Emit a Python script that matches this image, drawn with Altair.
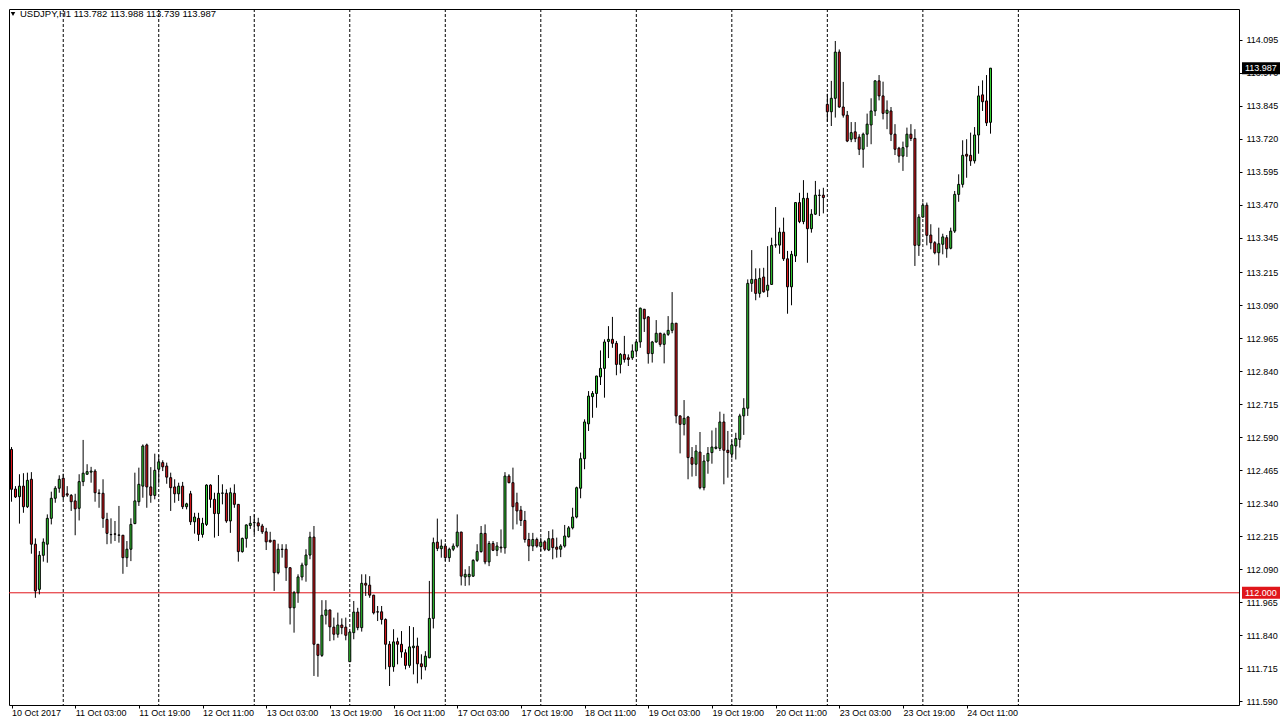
import json
import altair as alt
import pandas as pd

# ---------------- data ----------------
TITLE_SYMBOL = "USDJPY,H1"
TITLE_QUOTE = "113.782 113.988 113.739 113.987"

OPEN = [
    112.543, 112.393, 112.364, 112.404, 112.326, 112.430, 112.184, 112.013, 112.142, 112.184,
    112.282, 112.358, 112.396, 112.434, 112.375, 112.369, 112.348, 112.320, 112.421, 112.449,
    112.457, 112.461, 112.378, 112.377, 112.278, 112.221, 112.223, 112.219, 112.218, 112.133,
    112.165, 112.262, 112.345, 112.404, 112.560, 112.401, 112.369, 112.468, 112.493, 112.480,
    112.436, 112.401, 112.375, 112.404, 112.326, 112.375, 112.269, 112.282, 112.221, 112.259,
    112.408, 112.354, 112.300, 112.377, 112.377, 112.272, 112.377, 112.335, 112.156, 112.206,
    112.255, 112.265, 112.265, 112.253, 112.231, 112.199, 112.199, 112.076, 112.165, 112.165,
    112.095, 111.943, 112.000, 112.060, 112.105, 112.143, 112.211, 111.805, 111.763, 111.915,
    111.935, 111.870, 111.843, 111.878, 111.870, 111.739, 111.849, 111.927, 111.868, 112.036,
    112.029, 111.991, 111.928, 111.928, 111.899, 111.805, 111.720, 111.815, 111.805, 111.773,
    111.725, 111.792, 111.798, 111.731, 111.720, 111.754, 111.903, 112.192, 112.167, 112.177,
    112.133, 112.165, 112.177, 112.230, 112.060, 112.061, 112.063, 112.123, 112.156, 112.225,
    112.117, 112.187, 112.161, 112.173, 112.170, 112.442, 112.417, 112.341, 112.313, 112.274,
    112.202, 112.177, 112.202, 112.175, 112.193, 112.162, 112.205, 112.173, 112.165, 112.177,
    112.212, 112.246, 112.287, 112.396, 112.508, 112.640, 112.743, 112.755, 112.818, 112.850,
    112.952, 112.960, 112.945, 112.865, 112.903, 112.890, 112.890, 112.916, 112.950, 113.074,
    113.045, 112.906, 112.950, 112.983, 112.941, 112.979, 112.994, 113.021, 112.670, 112.638,
    112.666, 112.512, 112.487, 112.533, 112.398, 112.499, 112.531, 112.547, 112.547, 112.647,
    112.540, 112.525, 112.556, 112.581, 112.670, 112.699, 113.172, 113.187, 113.134, 113.196,
    113.146, 113.168, 113.317, 113.317, 113.366, 113.265, 113.159, 113.276, 113.478, 113.406,
    113.494, 113.379, 113.434, 113.506, 113.506, 113.850, 113.822, 113.873, 114.048, 113.840,
    113.809, 113.718, 113.746, 113.726, 113.680, 113.737, 113.772, 113.825, 113.939, 113.882,
    113.816, 113.825, 113.737, 113.684, 113.654, 113.689, 113.737, 113.721, 113.316, 113.423,
    113.468, 113.355, 113.326, 113.288, 113.320, 113.345, 113.305, 113.370, 113.509, 113.547,
    113.661, 113.657, 113.636, 113.734, 113.886, 113.863, 113.782,
]
HIGH = [
    112.552, 112.404, 112.449, 112.453, 112.455, 112.457, 112.206, 112.158, 112.206, 112.297,
    112.383, 112.404, 112.445, 112.451, 112.404, 112.374, 112.375, 112.449, 112.579, 112.487,
    112.477, 112.468, 112.392, 112.430, 112.303, 112.282, 112.272, 112.329, 112.219, 112.196,
    112.282, 112.455, 112.474, 112.562, 112.565, 112.476, 112.527, 112.522, 112.502, 112.493,
    112.455, 112.430, 112.417, 112.420, 112.341, 112.386, 112.303, 112.303, 112.284, 112.411,
    112.411, 112.379, 112.446, 112.411, 112.392, 112.398, 112.411, 112.336, 112.209, 112.259,
    112.291, 112.297, 112.284, 112.261, 112.246, 112.231, 112.200, 112.186, 112.184, 112.184,
    112.096, 112.007, 112.070, 112.114, 112.165, 112.231, 112.253, 111.806, 111.972, 111.972,
    111.936, 111.906, 111.925, 111.903, 111.906, 111.855, 111.969, 111.943, 112.070, 112.070,
    112.063, 111.992, 111.950, 111.950, 111.903, 111.817, 111.862, 111.830, 111.855, 111.786,
    111.874, 111.870, 111.830, 111.767, 111.779, 112.045, 112.209, 112.281, 112.202, 112.187,
    112.171, 112.187, 112.297, 112.231, 112.089, 112.101, 112.127, 112.184, 112.253, 112.259,
    112.196, 112.196, 112.192, 112.240, 112.457, 112.449, 112.474, 112.379, 112.329, 112.310,
    112.227, 112.227, 112.209, 112.209, 112.199, 112.234, 112.240, 112.209, 112.184, 112.257,
    112.253, 112.322, 112.402, 112.531, 112.657, 112.764, 112.764, 112.822, 112.918, 112.960,
    113.010, 113.045, 112.954, 112.908, 112.973, 112.903, 112.941, 112.954, 113.080, 113.075,
    113.048, 112.954, 113.033, 112.985, 112.985, 113.048, 113.139, 113.022, 112.671, 112.730,
    112.670, 112.552, 112.560, 112.609, 112.522, 112.552, 112.615, 112.625, 112.686, 112.678,
    112.613, 112.577, 112.606, 112.678, 112.737, 113.187, 113.298, 113.229, 113.229, 113.231,
    113.313, 113.345, 113.461, 113.383, 113.421, 113.295, 113.295, 113.480, 113.515, 113.563,
    113.515, 113.453, 113.560, 113.528, 113.534, 113.890, 113.939, 114.090, 114.058, 113.935,
    113.825, 113.783, 113.783, 113.737, 113.743, 113.815, 113.873, 113.941, 113.961, 113.936,
    113.865, 113.840, 113.775, 113.689, 113.709, 113.762, 113.775, 113.756, 113.434, 113.478,
    113.478, 113.396, 113.332, 113.383, 113.360, 113.355, 113.383, 113.522, 113.585, 113.714,
    113.718, 113.743, 113.764, 113.920, 113.941, 113.961, 113.988,
]
LOW = [
    112.345, 112.359, 112.262, 112.303, 112.321, 112.148, 111.981, 111.994, 112.118, 112.114,
    112.259, 112.341, 112.379, 112.354, 112.363, 112.310, 112.218, 112.274, 112.404, 112.447,
    112.417, 112.345, 112.322, 112.246, 112.184, 112.186, 112.196, 112.190, 112.072, 112.098,
    112.120, 112.260, 112.329, 112.360, 112.322, 112.341, 112.354, 112.413, 112.461, 112.413,
    112.310, 112.341, 112.348, 112.317, 112.316, 112.257, 112.224, 112.196, 112.209, 112.253,
    112.322, 112.209, 112.215, 112.335, 112.265, 112.227, 112.322, 112.118, 112.152, 112.171,
    112.242, 112.221, 112.234, 112.223, 112.162, 112.190, 112.007, 112.070, 112.133, 112.045,
    111.880, 111.849, 111.962, 112.047, 112.042, 112.127, 111.685, 111.682, 111.757, 111.880,
    111.817, 111.820, 111.830, 111.843, 111.820, 111.738, 111.824, 111.858, 111.853, 111.988,
    111.981, 111.918, 111.893, 111.880, 111.710, 111.647, 111.701, 111.729, 111.754, 111.710,
    111.716, 111.691, 111.657, 111.672, 111.706, 111.752, 111.865, 112.158, 112.133, 112.120,
    112.117, 112.158, 112.171, 112.028, 112.026, 112.028, 112.060, 112.117, 112.152, 112.108,
    112.101, 112.158, 112.139, 112.152, 112.148, 112.415, 112.240, 112.259, 112.253, 112.190,
    112.120, 112.158, 112.171, 112.158, 112.158, 112.158, 112.127, 112.133, 112.135, 112.171,
    112.209, 112.240, 112.282, 112.358, 112.468, 112.613, 112.663, 112.701, 112.787, 112.739,
    112.889, 112.928, 112.824, 112.831, 112.872, 112.859, 112.882, 112.903, 112.928, 112.988,
    112.868, 112.872, 112.947, 112.932, 112.869, 112.973, 112.983, 112.642, 112.528, 112.596,
    112.430, 112.440, 112.442, 112.392, 112.388, 112.451, 112.489, 112.543, 112.537, 112.411,
    112.436, 112.509, 112.505, 112.550, 112.598, 112.670, 113.140, 113.108, 113.118, 113.137,
    113.120, 113.166, 113.307, 113.284, 113.257, 113.057, 113.089, 113.253, 113.400, 113.396,
    113.250, 113.364, 113.431, 113.427, 113.437, 113.784, 113.768, 113.800, 113.837, 113.800,
    113.707, 113.707, 113.707, 113.658, 113.610, 113.689, 113.699, 113.806, 113.865, 113.793,
    113.756, 113.711, 113.658, 113.629, 113.598, 113.651, 113.711, 113.238, 113.276, 113.421,
    113.316, 113.301, 113.282, 113.240, 113.282, 113.269, 113.301, 113.363, 113.481, 113.535,
    113.572, 113.617, 113.626, 113.663, 113.825, 113.768, 113.739,
]
CLOSE = [
    112.392, 112.363, 112.404, 112.326, 112.426, 112.184, 112.007, 112.142, 112.192, 112.282,
    112.358, 112.396, 112.430, 112.364, 112.370, 112.345, 112.318, 112.421, 112.453, 112.459,
    112.461, 112.379, 112.376, 112.282, 112.225, 112.220, 112.222, 112.218, 112.133, 112.165,
    112.259, 112.348, 112.411, 112.556, 112.401, 112.369, 112.464, 112.496, 112.477, 112.438,
    112.398, 112.375, 112.404, 112.326, 112.337, 112.269, 112.287, 112.221, 112.263, 112.408,
    112.354, 112.300, 112.377, 112.378, 112.272, 112.379, 112.335, 112.156, 112.206, 112.257,
    112.263, 112.266, 112.253, 112.231, 112.193, 112.193, 112.076, 112.165, 112.164, 112.095,
    111.943, 112.000, 112.060, 112.105, 112.143, 112.211, 111.805, 111.763, 111.915, 111.935,
    111.871, 111.843, 111.878, 111.868, 111.839, 111.851, 111.927, 111.868, 112.036, 112.029,
    111.991, 111.924, 111.927, 111.899, 111.805, 111.720, 111.814, 111.805, 111.776, 111.725,
    111.795, 111.798, 111.731, 111.720, 111.760, 111.903, 112.190, 112.168, 112.177, 112.133,
    112.165, 112.177, 112.230, 112.063, 112.070, 112.070, 112.123, 112.156, 112.225, 112.117,
    112.187, 112.161, 112.177, 112.170, 112.442, 112.417, 112.326, 112.310, 112.274, 112.202,
    112.177, 112.202, 112.177, 112.192, 112.165, 112.205, 112.171, 112.165, 112.177, 112.215,
    112.246, 112.287, 112.398, 112.508, 112.647, 112.745, 112.755, 112.821, 112.850, 112.950,
    112.960, 112.945, 112.865, 112.903, 112.884, 112.884, 112.916, 112.950, 113.078, 113.038,
    112.906, 112.950, 112.983, 112.941, 112.979, 112.994, 113.021, 112.670, 112.638, 112.661,
    112.512, 112.487, 112.537, 112.398, 112.499, 112.528, 112.552, 112.552, 112.647, 112.540,
    112.531, 112.560, 112.584, 112.670, 112.699, 113.172, 113.187, 113.134, 113.191, 113.140,
    113.165, 113.316, 113.318, 113.366, 113.265, 113.159, 113.282, 113.478, 113.406, 113.494,
    113.379, 113.434, 113.506, 113.505, 113.497, 113.822, 113.873, 114.048, 113.840, 113.809,
    113.711, 113.743, 113.720, 113.680, 113.737, 113.775, 113.825, 113.939, 113.882, 113.816,
    113.828, 113.737, 113.680, 113.654, 113.686, 113.737, 113.721, 113.316, 113.423, 113.468,
    113.354, 113.326, 113.288, 113.322, 113.348, 113.303, 113.370, 113.509, 113.547, 113.657,
    113.654, 113.636, 113.734, 113.882, 113.860, 113.780, 113.987,
]

DAY_STARTS = [13, 37, 61, 85, 109, 133, 157, 181, 205, 229, 253]
TIME_TICKS = [0, 16, 32, 48, 64, 80, 96, 112, 128, 144, 160, 176, 192, 208, 224, 240]
TIME_LABELS = [
    "10 Oct 2017", "11 Oct 03:00", "11 Oct 19:00", "12 Oct 11:00", "13 Oct 03:00",
    "13 Oct 19:00", "16 Oct 11:00", "17 Oct 03:00", "17 Oct 19:00", "18 Oct 11:00",
    "19 Oct 03:00", "19 Oct 19:00", "20 Oct 11:00", "23 Oct 03:00", "23 Oct 19:00",
    "24 Oct 11:00",
]
PRICE_TICKS = [
    114.095, 113.970, 113.845, 113.720, 113.595, 113.470, 113.345, 113.215, 113.090,
    112.965, 112.840, 112.715, 112.590, 112.465, 112.340, 112.215, 112.090, 111.965,
    111.840, 111.715, 111.590,
]
LEVEL_PRICE = 112.000
BID_PRICE = 113.987

# ---------------- styling ----------------
GREEN = "#32cd32"
RED = "#e0161b"
FONT = "Liberation Sans"
W, H = 1230, 696
X_DOMAIN = [-0.6282, 308.44]
Y_DOMAIN = [111.575, 114.2112]

candles = pd.DataFrame({"i": list(range(len(OPEN))), "o": OPEN, "h": HIGH, "l": LOW, "c": CLOSE})
candles["dir"] = ["up" if c > o else "down" for o, c in zip(OPEN, CLOSE)]

label_expr = f"{json.dumps(TIME_LABELS)}[indexof({json.dumps(TIME_TICKS)}, datum.value)]"

x_axis = alt.Axis(
    values=TIME_TICKS, labelExpr=label_expr, orient="bottom", domain=False, grid=False,
    ticks=True, tickSize=3, tickColor="black", labelAlign="left", labelBaseline="top",
    labelPadding=0, labelFont=FONT, labelFontSize=9, labelColor="black",
    labelOverlap=False, labelFlush=False, labelBound=False, title=None,
)
y_axis = alt.Axis(
    values=PRICE_TICKS, format=".3f", orient="right", domain=False, grid=False,
    ticks=True, tickSize=3, tickColor="black", labelAlign="left", labelBaseline="middle",
    labelPadding=4, labelFont=FONT, labelFontSize=9, labelColor="black",
    labelOverlap=False, labelFlush=False, labelBound=False, title=None,
)


def X(field):
    return alt.X(
        f"{field}:Q",
        scale=alt.Scale(domain=X_DOMAIN, nice=False, zero=False, padding=0),
        axis=x_axis,
    )


def Y(field):
    return alt.Y(
        f"{field}:Q",
        scale=alt.Scale(domain=Y_DOMAIN, nice=False, zero=False, padding=0),
        axis=y_axis,
    )


separators = alt.Chart(pd.DataFrame({"i": DAY_STARTS})).mark_rule(
    color="black", strokeWidth=1, strokeDash=[3, 2]
).encode(x=X("i"))

level_line = alt.Chart(pd.DataFrame({"p": [LEVEL_PRICE]})).mark_rule(
    color=RED, strokeWidth=1
).encode(y=Y("p"))

wicks = alt.Chart(candles).mark_rule(color="black", strokeWidth=1).encode(
    x=X("i"), y=Y("l"), y2="h"
)

bodies_up = alt.Chart(candles).transform_filter("datum.dir == 'up'").mark_bar(
    size=2, stroke="black", strokeWidth=1, fill=GREEN
).encode(x=X("i"), y=Y("o"), y2="c")

bodies_down = alt.Chart(candles).transform_filter("datum.dir == 'down'").mark_bar(
    size=2, stroke="black", strokeWidth=1, fill=RED
).encode(x=X("i"), y=Y("o"), y2="c")

BOX_PATH = "M0,-0.3158L2,-0.3158L2,0.3158L0,0.3158Z"


def price_box(price, color):
    d = pd.DataFrame({"p": [price]})
    box = alt.Chart(d).mark_point(
        shape=BOX_PATH, filled=True, fill=color, opacity=1, size=1444, strokeWidth=0
    ).encode(x=alt.value(W + 3), y=Y("p"))
    txt = alt.Chart(d).mark_text(
        align="left", baseline="middle", color="white", font=FONT, fontSize=9
    ).encode(x=alt.value(W + 6), y=Y("p"), text=alt.Text("p:Q", format=".3f"))
    return box + txt


title_df = pd.DataFrame({"t": [TITLE_SYMBOL + "  " + TITLE_QUOTE]})
title_tri = alt.Chart(title_df).mark_point(
    shape="triangle-down", filled=True, color="black", size=20, opacity=1
).encode(x=alt.value(4), y=alt.value(5))
title_txt = alt.Chart(title_df).mark_text(
    align="left", baseline="middle", color="black", font=FONT, fontSize=9.5
).encode(x=alt.value(11), y=alt.value(5), text="t:N")

chart = alt.layer(
    separators, level_line, wicks, bodies_up, bodies_down,
    price_box(LEVEL_PRICE, RED), price_box(BID_PRICE, "black"),
    title_tri, title_txt,
).properties(
    width=W, height=H, padding=0, background="white"
).configure_view(stroke="black", strokeWidth=1)

chart.save("out.html", embed_options={"renderer": "svg", "actions": False})
